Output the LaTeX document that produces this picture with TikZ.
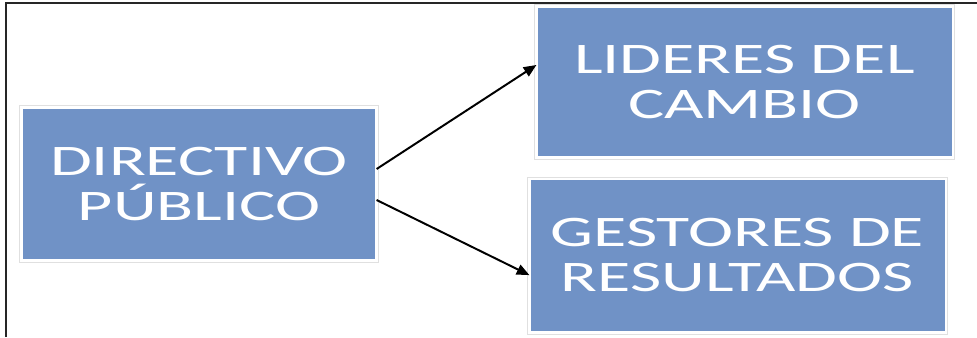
\documentclass[tikz,border=0pt]{standalone}
\usepackage{fontspec}
\setmainfont{Carlito}[FakeStretch=1.56]
\usetikzlibrary{arrows.meta}
\definecolor{boxblue}{RGB}{112,146,198}

\begin{document}
\begin{tikzpicture}[x=0.025cm,y=-0.025cm,
  box/.style={fill=boxblue,draw=white,line width=0.8pt,inner sep=0pt,align=center,
    text=white,font=\fontsize{31}{32}\selectfont},
  boxrim/.style={draw=black!12,line width=0.6pt},
  link/.style={-{Triangle[length=9pt,width=7.5pt]},line width=1.4pt}]
\useasboundingbox (0,0) rectangle (977,337);

% The frame
\draw[black!85,line width=0.8pt] (6,337) |- (977,3);

% The boxes
\node (dir) at (199,184) [box,minimum width=8.85cm,minimum height=3.8cm] {DIRECTIVO\\PÚBLICO};
\node (lid) at (744.5,82) [box,minimum width=10.375cm,minimum height=3.75cm] {LIDERES DEL\\CAMBIO};
\node (ges) at (737.5,255.5) [box,minimum width=10.375cm,minimum height=3.78cm] {GESTORES DE\\RESULTADOS};
\foreach \n in {dir,lid,ges}
  \draw[boxrim] ([shift={(-1.6pt,-1.6pt)}]\n.south west) rectangle ([shift={(1.6pt,1.6pt)}]\n.north east);

% arrows
\draw[link] ([yshift=0.375cm]dir.east) -- ([yshift=0.425cm]lid.west);
\draw[link] ([yshift=-0.4cm]dir.east) -- ([yshift=-0.49cm]ges.west);

\end{tikzpicture}
\end{document}
